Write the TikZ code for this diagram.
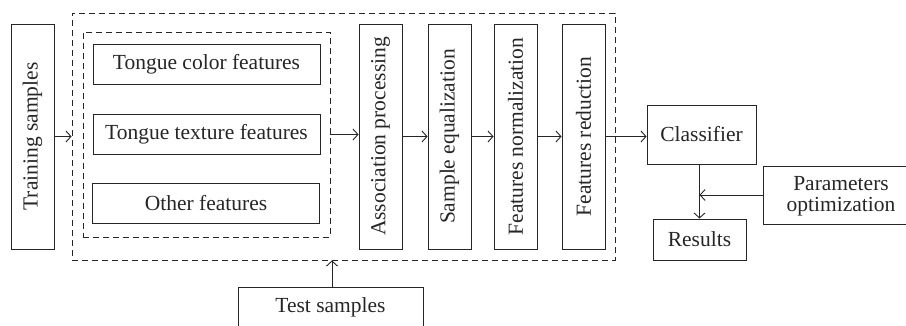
\documentclass[tikz,border=0pt]{standalone}
\usepackage{fontspec}
\setmainfont{Liberation Serif}
\usetikzlibrary{arrows.meta}
\begin{document}
\begin{tikzpicture}[x=1pt,y=-1pt,
  every node/.style={font=\fontsize{21.5}{21}\selectfont, text=black!85, align=center},
  box/.style={draw=black!85, line width=0.9pt, rectangle, inner sep=0pt},
  dbox/.style={draw=black!85, line width=0.9pt, dash pattern=on 6pt off 4pt, rectangle, inner sep=0pt},
  arr/.style={draw=black!85, line width=0.9pt, -{Straight Barb[length=5pt,width=11pt]}}
]
\useasboundingbox (0,0) rectangle (906,326);
\begin{scope}
\clip (0,0) rectangle (906,326);
% dashed containers
\node[dbox, minimum width=543pt, minimum height=247pt] (outer) at (343.5,136.5) {};
\node[dbox, minimum width=247pt, minimum height=205pt] (inner) at (206.5,134.5) {};
% boxes
\node[box, minimum width=43pt, minimum height=225pt] (train) at (32.5,136.5) {\rotatebox{90}{Training samples}};
\node[box, minimum width=227pt, minimum height=40pt] (color) at (206.5,64) {Tongue color features};
\node[box, minimum width=227pt, minimum height=40pt] (texture) at (206.5,134) {Tongue texture features};
\node[box, minimum width=227pt, minimum height=40pt] (other) at (206,203) {Other features};
\node[box, minimum width=43pt, minimum height=225pt] (assoc) at (380.5,136.5) {\rotatebox{90}{Association processing}};
\node[box, minimum width=43pt, minimum height=225pt] (equal) at (449.5,136.5) {\rotatebox{90}{Sample equalization}};
\node[box, minimum width=43pt, minimum height=225pt] (norm) at (515.5,136.5) {\rotatebox{90}{Features normalization}};
\node[box, minimum width=43pt, minimum height=225pt] (red) at (583.5,136.5) {\rotatebox{90}{Features reduction}};
\node[box, minimum width=109pt, minimum height=59pt] (cls) at (701.5,134.5) {Classifier};
\node[box, minimum width=93pt, minimum height=41pt] (res) at (699.5,239.5) {Results};
\node[box, minimum width=170pt, minimum height=58pt, anchor=west] (par) at (763,195) {};
\node (partext) at (841,196) {Parameters\\optimization};
\node[box, minimum width=185pt, minimum height=70pt, anchor=north west] (test) at (238,287) {};
\node (testtext) at (330.5,307) {Test samples};
% connectors
\draw[arr] (train.east) -- (train.east -| outer.west);
\draw[arr] (inner.east) -- (inner.east -| assoc.west);
\draw[arr] (assoc) -- (equal);
\draw[arr] (equal) -- (norm);
\draw[arr] (norm) -- (red);
\draw[arr] (red.east) -- (red.east -| cls.west);
\draw[arr] (test.north -| 332,0) -- (outer.south -| 332,0);
\draw[arr] (res.north |- cls.south) -- (res.north);
\draw[arr] (par.west) -- (par.west -| res.north);
\end{scope}
\end{tikzpicture}
\end{document}
